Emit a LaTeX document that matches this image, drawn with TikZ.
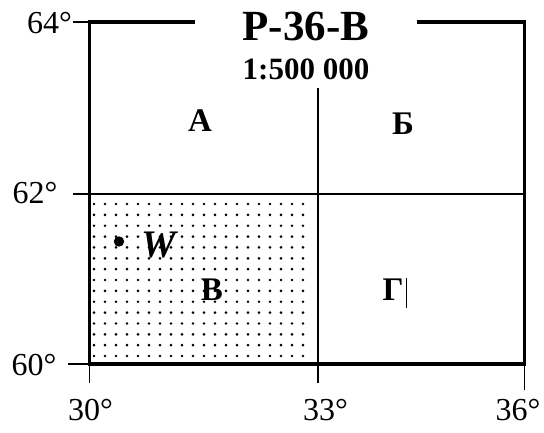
\documentclass[tikz,border=0pt]{standalone}
\usepackage{fontspec}
\setmainfont{Liberation Serif}
\begin{document}
\begin{tikzpicture}[x=1pt,y=-1pt,
  frameline/.style={line width=3.4pt},
  gridline/.style={line width=1.8pt},
  tickline/.style={line width=1.1pt},
  deglab/.style={font=\fontsize{32}{36}\selectfont, inner sep=0pt, anchor=base},
  cell/.style={font=\fontsize{33}{36}\selectfont\bfseries, inner sep=0pt, anchor=base}]
\useasboundingbox (0,0) rectangle (544,432);
% stipple of sheet V
\foreach \i in {0,...,19}{
  \foreach \j in {0,...,14}{
    \fill ({94+11*\i},{204+10.86*\j}) circle[radius=1.45pt];
  }
}
% frame corners
\coordinate (tl) at (89.5,22);
\coordinate (tr) at (524.5,22);
\coordinate (bl) at (89.5,364);
\coordinate (br) at (524.5,364);
\coordinate (gapL) at (195,22);
\coordinate (gapR) at (417,22);
\coordinate (ml) at (89.5,194);
\coordinate (mr) at (524.5,194);
\coordinate (mt) at (318,88);
\coordinate (mb) at (318,364);
\draw[gridline] (ml) -- (mr);
\draw[gridline] (mt) -- (mb);
\draw[frameline, line join=miter] (gapL) -- (tl) -- (bl) -- (br) -- (tr) -- (gapR);
% ticks
\coordinate (t64) at (73,22);
\coordinate (t62) at (73,194);
\coordinate (t60) at (68,364);
\coordinate (t30) at (89.5,383);
\coordinate (t33) at (318,383);
\coordinate (t36) at (524.5,390);
\draw[tickline] (t64) -- (tl);
\draw[tickline] (t62) -- (ml);
\draw[tickline] (t60) -- (bl);
\draw[tickline] (bl) -- (t30);
\draw[tickline] (mb) -- (t33);
\draw[tickline] (br) -- (t36);
% degree labels
\node[deglab] (l64) at (49.5,33) {64°};
\node[deglab] (l62) at (35,203.5) {62°};
\node[deglab] (l60) at (34,375) {60°};
\node[deglab] (l30) at (90.5,420) {30°};
\node[deglab] (l33) at (325.5,420) {33°};
\node[deglab] (l36) at (518,420) {36°};
% title
\node[font=\fontsize{43}{46}\selectfont\bfseries, inner sep=0pt, anchor=base] (title) at (306,40) {Р-36-В};
\node[font=\fontsize{31}{34}\selectfont\bfseries, inner sep=0pt, anchor=base] (scale) at (306,79) {1:500 000};
% sheet letters
\node[cell] (A) at (200,131) {А};
\node[cell] (B6) at (403,134) {Б};
\node[cell] (V) at (212,300) {В};
\node[cell] (G) at (393,300) {Г};
\coordinate (barT) at (406,278);
\coordinate (barB) at (406,308);
\draw[line width=0.8pt] (barT) -- (barB);
% point W
\fill (119,241.5) circle[radius=5.2pt];
\node[font=\fontsize{39}{42}\selectfont\bfseries\itshape, inner sep=0pt, anchor=base] (W) at (159,257) {W};
\end{tikzpicture}
\end{document}
